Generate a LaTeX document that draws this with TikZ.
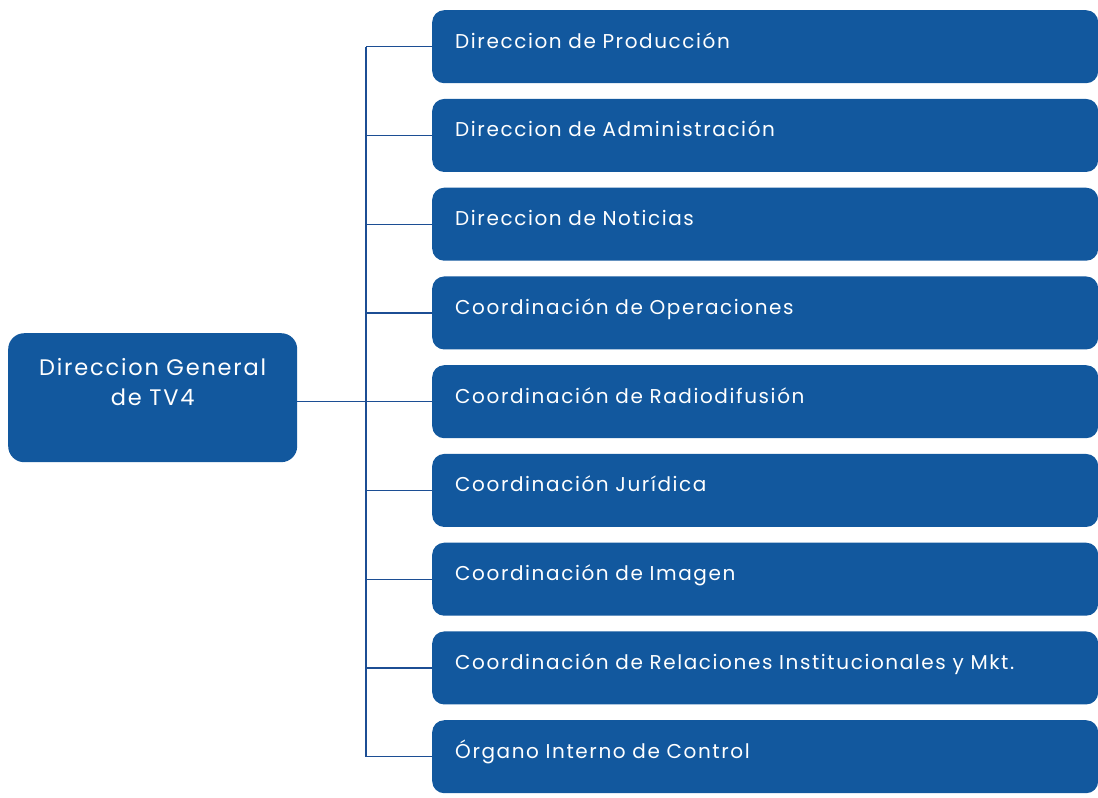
\documentclass[tikz,border=0pt]{standalone}
\usepackage{fontspec}
\setmainfont{Poppins}[LetterSpace=8]
\definecolor{boxblue}{RGB}{18,88,158}
\definecolor{lineblue}{RGB}{28,78,148}
\tikzset{
  subbox/.style={draw=none, fill=boxblue, rounded corners=12pt, minimum width=662pt, minimum height=73pt,
    text width=620pt, align=left, text=white, anchor=north west, inner xsep=23pt,
    font=\fontsize{20}{22}\selectfont, text height=18pt, text depth=15pt},
  mainbox/.style={draw=none, fill=boxblue, rounded corners=16pt, minimum width=289pt, minimum height=129pt,
    text width=285pt, align=center, text=white, anchor=north west, inner xsep=2pt,
    font=\fontsize{22.5}{30}\selectfont},
  conn/.style={draw=lineblue, line width=1.3pt}
}
\begin{document}
\begin{tikzpicture}[x=1pt,y=-1pt]
\useasboundingbox (0,0) rectangle (1098,798);
\node[mainbox] (g) at (8,333) {Direccion General\\de TV4\\[-8pt]\strut};
\node[subbox] (b1) at (432,10) {Direccion de Producción};
\node[subbox] (b2) at (432,98.75) {Direccion de Administración};
\node[subbox] (b3) at (432,187.5) {Direccion de Noticias};
\node[subbox] (b4) at (432,276.25) {Coordinación de Operaciones};
\node[subbox] (b5) at (432,365) {Coordinación de Radiodifusión};
\node[subbox] (b6) at (432,453.75) {Coordinación Jurídica};
\node[subbox] (b7) at (432,542.5) {Coordinación de Imagen};
\node[subbox] (b8) at (432,631.25) {Coordinación de Relaciones Institucionales y Mkt.};
\node[subbox] (b9) at (432,720) {Órgano Interno de Control};
\coordinate (top) at (366,0 |- b1.west);
\coordinate (bot) at (366,0 |- b9.west);
\draw[conn] (top) -- (bot);
\draw[conn] (g.east |- b5.west) -- (b5.west);
\foreach \i in {1,2,3,4,6,7,8,9}{
  \draw[conn] (top |- b\i.west) -- (b\i.west);
}
\end{tikzpicture}
\end{document}
